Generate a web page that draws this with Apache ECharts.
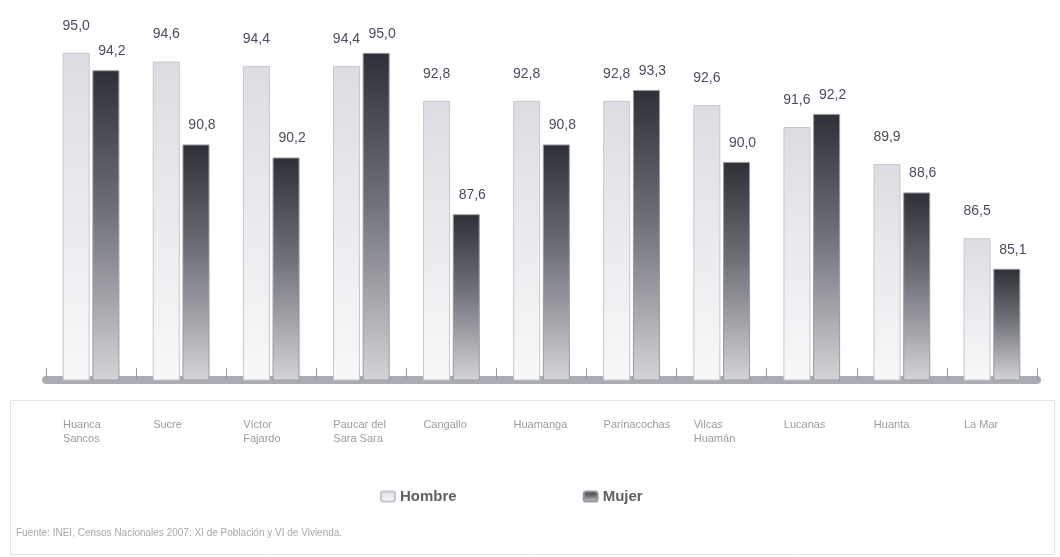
<!DOCTYPE html>
<html>
<head>
<meta charset="utf-8">
<script src="https://cdn.jsdelivr.net/npm/echarts@6/dist/echarts.min.js"></script>
<style>
html,body{margin:0;padding:0;background:#fff;}
#chart{width:1060px;height:557px;}
</style>
</head>
<body>
<div id="chart"></div>
<script>
const categories = ['Huanca\nSancos','Sucre','Víctor\nFajardo','Paucar del\nSara Sara','Cangallo','Huamanga','Parinacochas','Vilcas\nHuamán','Lucanas','Huanta','La Mar'];
const hombre = [95.0, 94.6, 94.4, 94.4, 92.8, 92.8, 92.8, 92.6, 91.6, 89.9, 86.5];
const mujer  = [94.2, 90.8, 90.2, 95.0, 87.6, 90.8, 93.3, 90.0, 92.2, 88.6, 85.1];
const seriesNames = ['Hombre', 'Mujer'];
const sourceText = 'Fuente: INEI, Censos Nacionales 2007: XI de Población y VI de Vivienda.';

const fmt = p => p.value.toFixed(1).replace('.', ',');
const chart = echarts.init(document.getElementById('chart'));
chart.setOption({
  backgroundColor: '#ffffff',
  animation: false,
  grid: { left: 46, right: 23, top: 31, bottom: 177 },
  legend: {
    data: seriesNames,
    top: 484,
    left: 375,
    itemGap: 126,
    itemWidth: 14,
    itemHeight: 10,
    textStyle: { color: '#606060', fontSize: 15, fontWeight: 'bold', fontFamily: 'Liberation Sans' }
  },
  xAxis: {
    type: 'category',
    data: categories,
    axisLine: { show: true, lineStyle: { color: '#a9adb3', width: 8 } },
    axisTick: { show: true, length: 12, inside: true, lineStyle: { color: '#9a9a9a', width: 1 } },
    axisLabel: {
      interval: 0,
      align: 'left',
      margin: 38,
      padding: [0, 0, 0, -28],
      color: '#9c9c9c',
      fontSize: 11,
      lineHeight: 14,
      fontFamily: 'Liberation Sans'
    }
  },
  yAxis: {
    type: 'value',
    min: 80,
    max: 96,
    show: false,
    splitLine: { show: false }
  },
  series: [
    {
      name: seriesNames[0],
      type: 'bar',
      data: hombre,
      barWidth: 27,
      barGap: '10%',
      itemStyle: {
        color: new echarts.graphic.LinearGradient(0, 0, 0, 1, [
          { offset: 0, color: '#dcdce2' },
          { offset: 0.5, color: '#ebebef' },
          { offset: 1, color: '#f8f8fa' }
        ]),
        borderColor: '#c6c6cc',
        borderWidth: 1
      },
      label: { show: true, position: 'top', distance: 20, formatter: fmt, color: '#4a4d5e', fontSize: 14, fontFamily: 'Liberation Sans' }
    },
    {
      name: seriesNames[1],
      type: 'bar',
      data: mujer,
      barWidth: 27,
      itemStyle: {
        color: new echarts.graphic.LinearGradient(0, 0, 0, 1, [
          { offset: 0, color: '#2e3038' },
          { offset: 0.45, color: '#6e7078' },
          { offset: 1, color: '#d4d4d8' }
        ]),
        borderColor: '#9a9aa0',
        borderWidth: 1
      },
      label: { show: true, position: 'top', distance: 12, offset: [6, 0], formatter: fmt, color: '#4a4d5e', fontSize: 14, fontFamily: 'Liberation Sans' }
    }
  ],
  graphic: [
    {
      type: 'rect',
      left: 8, top: 398,
      shape: { width: 1044, height: 154 },
      style: { fill: 'none', stroke: '#e4e4e4', lineWidth: 1 },
      silent: true
    },
    {
      type: 'text',
      left: 16, top: 528,
      style: { text: sourceText, fill: '#a8a8a8', fontSize: 10, fontFamily: 'Liberation Sans' }
    }
  ]
});
</script>
</body>
</html>
